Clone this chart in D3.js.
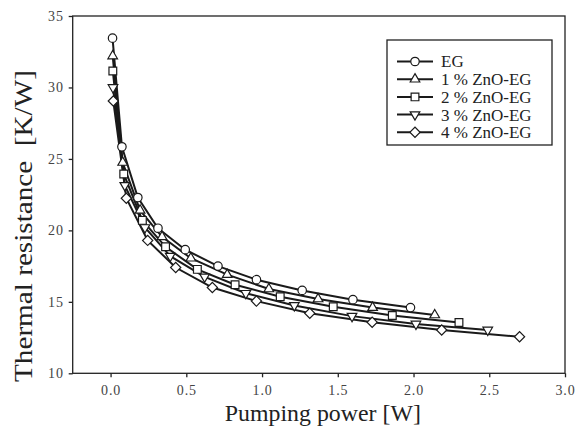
<!DOCTYPE html>
<html><head><meta charset="utf-8">
<script src="https://cdn.jsdelivr.net/npm/d3@7"></script>
<style>
html,body{margin:0;padding:0;background:#fff;}
svg{display:block;}
text{font-family:"Liberation Serif","Times New Roman",serif;}
</style></head>
<body>
<script>
const seriesNames = ["EG", "1 % ZnO-EG", "2 % ZnO-EG", "3 % ZnO-EG", "4 % ZnO-EG"];
const markerTypes = ["circle", "triangleUp", "square", "triangleDown", "diamond"];
const xEG   = [0.013, 0.075, 0.18, 0.313, 0.493, 0.709, 0.963, 1.265, 1.60, 1.98];
const yEG   = [33.45, 25.85, 22.3, 20.15, 18.65, 17.5, 16.55, 15.8, 15.15, 14.6];
const xZn1  = [0.014, 0.08, 0.195, 0.34, 0.53, 0.77, 1.045, 1.37, 1.73, 2.14];
const yZn1  = [32.2, 24.75, 21.4, 19.55, 18.05, 16.9, 15.9, 15.2, 14.6, 14.08];
const xZn2  = [0.015, 0.087, 0.21, 0.363, 0.573, 0.822, 1.12, 1.47, 1.86, 2.30];
const yZn2  = [31.15, 23.95, 20.7, 18.85, 17.27, 16.2, 15.35, 14.65, 14.05, 13.55];
const xZn3  = [0.016, 0.094, 0.227, 0.394, 0.621, 0.893, 1.213, 1.594, 2.016, 2.49];
const yZn3  = [30.0, 23.15, 20.2, 18.2, 16.75, 15.6, 14.75, 14.0, 13.45, 13.03];
const xZn4  = [0.018, 0.104, 0.245, 0.43, 0.672, 0.963, 1.315, 1.727, 2.186, 2.70];
const yZn4  = [29.05, 22.25, 19.3, 17.4, 16.0, 15.05, 14.2, 13.57, 13.03, 12.56];
const xTicks = [0.0, 0.5, 1.0, 1.5, 2.0, 2.5, 3.0];
const yTicks = [10, 15, 20, 25, 30, 35];
const xTitle = "Pumping power [W]";
const yTitle = "Thermal resistance\u00a0\u00a0[K/W]";

const xs = [xEG, xZn1, xZn2, xZn3, xZn4];
const ys = [yEG, yZn1, yZn2, yZn3, yZn4];
const series = seriesNames.map((n, i) => ({name: n, marker: markerTypes[i],
  pts: xs[i].map((x, j) => ({x: x, y: ys[i][j]}))}));

const W = 584, H = 431;
const m = {left: 72.7, top: 16, right: 19, bottom: 57.7};
const svg = d3.select("body").append("svg").attr("width", W).attr("height", H);

const x = d3.scaleLinear().domain([-0.25, 3.0]).range([m.left, W - m.right]);
const y = d3.scaleLinear().domain([10, 35]).range([H - m.bottom, m.top]);

// frame
svg.append("rect").attr("x", m.left).attr("y", m.top)
  .attr("width", W - m.right - m.left).attr("height", H - m.bottom - m.top)
  .attr("fill", "none").attr("stroke", "#222").attr("stroke-width", 1.3);

const xAxis = svg.append("g").attr("transform", `translate(0,${H - m.bottom})`)
  .call(d3.axisBottom(x).tickValues(xTicks).tickFormat(d3.format(".1f")).tickSizeInner(4).tickSizeOuter(0).tickPadding(8));
const yAxis = svg.append("g").attr("transform", `translate(${m.left},0)`)
  .call(d3.axisLeft(y).tickValues(yTicks).tickFormat(d3.format("d")).tickSizeInner(4).tickSizeOuter(0).tickPadding(5));
[xAxis, yAxis].forEach(a => {
  a.select(".domain").remove();
  a.selectAll(".tick line").attr("stroke", "#222").attr("stroke-width", 1.3);
  a.selectAll(".tick text").attr("font-family", "'Liberation Serif', serif")
    .attr("font-size", 14).attr("fill", "#444").attr("letter-spacing", "0.8px");
});

// titles
svg.append("text").attr("x", (m.left + W - m.right) / 2 + 4).attr("y", 421)
  .attr("text-anchor", "middle").attr("font-size", 23).attr("fill", "#222")
  .attr("textLength", 196).attr("lengthAdjust", "spacingAndGlyphs").text(xTitle);
svg.append("text").attr("transform", `translate(32,${(70 + 382) / 2}) rotate(-90)`)
  .attr("text-anchor", "middle").attr("font-size", 26).attr("fill", "#222")
  .attr("textLength", 312).attr("lengthAdjust", "spacingAndGlyphs").text(yTitle);

function markerPath(type) {
  if (type === "circle") return d3.symbol().type(d3.symbolCircle).size(56)();
  if (type === "square") return d3.symbol().type(d3.symbolSquare).size(60)();
  if (type === "diamond") return d3.symbol().type(d3.symbolSquare).size(52)();
  return d3.symbol().type(d3.symbolTriangle).size(40)();
}
function markerTransform(type) {
  if (type === "triangleDown") return " rotate(180)";
  if (type === "diamond") return " rotate(45)";
  return "";
}

const line = d3.line().x(d => x(d.x)).y(d => y(d.y));
const g = svg.append("g");
series.forEach(s => {
  g.append("path").datum(s.pts).attr("d", line)
    .attr("fill", "none").attr("stroke", "#1a1a1a").attr("stroke-width", 2);
});
series.forEach(s => {
  g.selectAll(null).data(s.pts).enter().append("path")
    .attr("d", markerPath(s.marker))
    .attr("transform", d => `translate(${x(d.x)},${y(d.y)})` + markerTransform(s.marker))
    .attr("fill", "#fff").attr("stroke", "#1a1a1a").attr("stroke-width", 1.2);
});

// legend
const lg = svg.append("g");
lg.append("rect").attr("x", 387).attr("y", 40).attr("width", 165).attr("height", 105)
  .attr("fill", "#fff").attr("stroke", "#222").attr("stroke-width", 1.3);
series.forEach((s, i) => {
  const yy = 61.5 + i * 17.7;
  lg.append("line").attr("x1", 397).attr("x2", 433).attr("y1", yy).attr("y2", yy)
    .attr("stroke", "#1a1a1a").attr("stroke-width", 2);
  lg.append("path").attr("d", markerPath(s.marker))
    .attr("transform", `translate(415,${yy})` + markerTransform(s.marker))
    .attr("fill", "#fff").attr("stroke", "#1a1a1a").attr("stroke-width", 1.2);
  lg.append("text").attr("x", 441).attr("y", yy).attr("dy", "0.35em")
    .attr("font-size", 17).attr("fill", "#222").text(s.name);
});
</script>
</body></html>
